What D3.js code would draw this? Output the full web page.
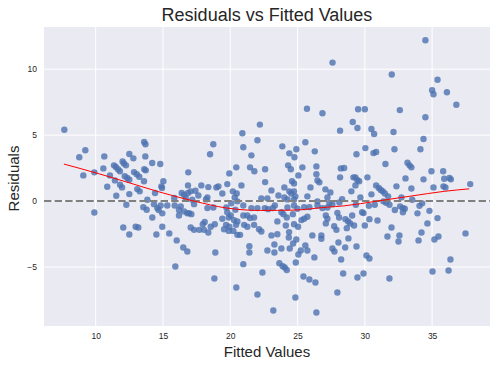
<!DOCTYPE html>
<html><head><meta charset="utf-8">
<script src="https://cdn.jsdelivr.net/npm/d3@7"></script>
<style>body{margin:0;background:#fff;}svg{display:block;font-family:"Liberation Sans",Arial,sans-serif;}</style>
</head><body>
<svg id="chart" width="497" height="367"></svg>
<script>
const fitted = [27.6,25.7,26.85,22.2,34.5,32.0,35.4,35.0,35.1,36.1,36.8,29.5,30.0,32.6,34.5,29.1,
7.67,13.6,13.7,9.23,8.78,10.64,12.5,12.8,13.69,12.0,12.1,12.25,11.36,11.5,11.66,14.2,14.8,10.57,9.08,9.9,11.06,11.8,12.16,12.35,12.5,12.85,13.05,13.24,13.61,13.72,16.88,11.43,11.81,11.96,13.59,15.03,14.88,14.93,10.86,13.09,13.27,16.86,16.39,16.57,16.86,17.06,12.5,11.53,14.41,13.84,15.84,16.69,17.18,12.28,13.54,13.79,14.33,14.58,14.83,14.68,15.32,15.87,16.19,16.32,16.57,16.81,16.94,17.11,16.19,14.95,14.21,9.9,12.05,12.97,13.17,14.95,17.06,
12.5,14.51,15.47,16.02,16.51,16.81,15.92,
20.9,28.16,18.74,18.5,20.97,22.02,21.57,23.87,25.58,24.91,24.39,24.77,26.28,19.93,20.45,21.47,21.79,22.59,24.3,24.5,25.36,25.06,26.4,26.4,26.48,26.62,28.22,28.16,22.59,19.78,20.83,17.85,18.37,18.97,19.12,17.41,17.63,23.06,24.02,24.59,24.74,24.39,24.54,24.74,25.96,27.07,27.44,20.19,20.48,20.33,19.41,18.3,18.2,23.58,22.31,22.76,24.02,24.25,24.84,24.74,25.73,26.48,27.22,27.37,27.59,28.11,28.31,20.08,20.53,17.31,18.3,18.74,19.71,20.38,20.97,21.57,22.02,22.57,22.81,23.31,23.16,23.8,23.95,24.25,24.74,24.99,25.49,25.88,26.48,26.85,27.22,27.96,19.78,20.04,19.89,20.97,21.27,21.47,21.77,19.41,18.1,17.96,20.28,20.53,20.43,23.5,24.2,24.65,25.29,25.49,25.73,27.1,27.22,28.09,18.85,18.55,19.69,19.93,21.03,21.27,21.77,24.13,24.74,25.04,27.1,27.72,
29.45,30.49,30.69,32.13,34.36,30.04,30.64,30.84,29.38,32.2,34.13,31.53,33.17,33.32,33.46,34.95,35.82,29.15,29.3,29.45,29.58,30.19,33.02,34.36,35.9,36.29,36.39,28.46,29.0,29.3,30.84,31.04,31.19,31.34,31.49,32.35,33.46,35.1,35.84,35.99,37.83,30.49,31.73,32.72,29.67,31.38,31.58,31.83,33.52,34.26,34.06,29.33,30.3,30.74,32.62,32.83,32.97,32.23,32.83,34.8,33.91,29.8,29.9,29.06,35.4,28.56,28.76,28.91,30.34,30.94,34.65,29.2,30.0,31.98,
17.31,17.7,18.05,18.37,19.54,19.89,20.23,20.53,20.73,22.14,22.31,23.06,23.5,24.37,24.35,26.1,26.77,26.77,27.89,21.42,21.42,18.89,22.76,23.28,23.28,23.8,24.42,24.67,24.91,25.06,25.24,25.58,25.73,26.25,27.59,27.74,28.04,28.24,20.97,23.65,23.9,24.05,24.2,24.87,22.39,18.82,20.45,22.02,25.44,25.88,26.33,24.84,27.96,23.2,26.4,28.39,
28.66,31.68,32.57,32.5,34.21,33.99,35.17,35.47,37.48,28.78,28.54,29.38,30.12,30.34,36.36,29.45,29.9,31.83,35.03,36.22];
const residuals = [10.5,7.0,6.66,5.8,12.2,9.6,9.2,8.4,8.1,8.25,7.3,6.96,6.96,6.9,6.36,6.0,
5.41,4.48,4.31,3.85,3.32,3.39,3.57,3.24,3.39,3.01,2.86,2.71,2.71,2.58,2.41,2.89,2.81,2.48,1.95,2.18,1.95,2.26,1.88,1.75,1.62,2.2,2.03,1.85,2.41,2.33,2.18,1.57,1.24,1.04,1.5,1.5,1.12,0.99,1.09,0.91,0.74,1.19,0.61,0.48,0.61,0.74,0.53,0.4,0.61,0.1,0.23,0.23,0.1,-0.28,-0.46,-0.66,-0.23,-0.53,-0.33,-0.68,-0.33,-0.33,-0.68,-0.4,-0.78,-0.93,-0.91,-0.99,-1.09,-0.93,-1.24,-0.86,-2.0,-1.95,-2.0,-1.95,-2.0,
-2.53,-2.53,-2.45,-2.98,-3.52,-3.82,-4.96,
5.14,5.34,4.31,3.55,4.08,4.61,3.47,4.15,4.46,3.93,3.62,3.32,3.77,2.1,2.56,2.56,2.26,2.41,2.71,2.41,2.56,1.95,2.63,2.03,1.57,1.42,2.48,1.8,1.44,1.29,1.19,1.19,1.06,1.04,1.12,0.78,0.43,0.81,1.04,1.5,1.34,0.74,0.58,0.74,1.04,0.89,0.66,0.74,0.58,0.28,0.58,0.28,0.13,0.43,0.21,0.21,0.28,0.13,0.36,0.13,0.36,-0.02,0.28,-0.15,-0.23,-0.1,0.15,-0.17,-0.02,-0.23,-0.53,-0.48,-0.48,-0.66,-0.33,-0.53,-0.53,-0.53,-0.61,-0.33,-0.53,-0.84,-0.99,-0.48,-0.33,-0.58,-0.46,-0.46,-0.33,-0.53,-0.48,-0.89,-0.84,-1.09,-1.24,-1.09,-1.09,-1.29,-1.24,-1.34,-1.59,-1.75,-1.44,-1.54,-1.8,-1.54,-1.24,-0.99,-1.44,-1.34,-1.19,-1.09,-1.34,-1.24,-1.75,-1.95,-1.8,-1.95,-1.8,-1.95,-1.8,-1.85,-1.75,-1.95,-1.69,-1.9,
5.54,5.47,5.09,5.24,4.71,4.02,3.64,3.72,3.55,3.93,3.93,2.81,2.91,2.71,2.56,2.26,2.26,1.8,1.8,1.59,1.5,1.8,1.72,1.65,1.69,1.75,1.65,2.51,0.74,1.19,1.19,0.99,0.84,0.74,0.58,1.12,0.96,1.04,1.12,1.04,1.29,0.51,0.36,0.28,0.28,-0.02,-0.13,-0.28,0.1,-0.17,-0.36,-0.28,-0.36,-0.28,-0.4,-0.53,-0.58,-0.68,-0.84,-0.74,-0.93,-0.84,-0.91,-1.09,-1.29,-1.37,-1.54,-1.69,-1.37,-1.47,-1.69,-1.85,-1.85,-2.0,
-2.18,-2.18,-2.18,-2.38,-2.13,-2.26,-2.26,-2.56,-2.56,-2.13,-2.3,-2.6,-2.51,-2.35,-2.76,-2.6,-2.6,-2.86,-2.18,-3.42,-3.9,-3.9,-3.74,-3.29,-3.9,-3.59,-3.59,-3.21,-2.91,-4.05,-3.74,-3.36,-3.74,-4.27,-3.59,-3.82,-3.14,-4.43,-4.78,-4.71,-4.94,-5.03,-5.22,-4.65,-5.41,-5.87,-6.55,-7.08,-5.72,-5.95,-6.17,-7.31,-6.93,-8.3,-8.45,-5.49,
-2.05,-2.68,-2.6,-3.06,-2.38,-2.98,-2.91,-2.68,-2.45,-2.83,-3.52,-3.44,-4.12,-4.35,-4.43,-5.79,-5.49,-5.87,-5.34,-5.26];
const lowessX = [7.64,10.32,12.55,14.78,17.31,19.76,22.27,24.74,27.2,28.46,30.91,33.42,35.9,37.76];
const lowessY = [2.81,2.05,1.37,0.68,0.0,-0.53,-0.71,-0.68,-0.46,-0.36,0.0,0.38,0.74,0.93];
const xTicks = [10,15,20,25,30,35];
const yTicks = [-5,0,5,10];

const svg = d3.select("#chart");
const L=44,R=490,T=27,B=326;
const x = d3.scaleLinear().domain([6.16,39.3]).range([L,R]);
const y = d3.scaleLinear().domain([-9.47,13.2]).range([B,T]);

svg.append("rect").attr("x",L).attr("y",T).attr("width",R-L).attr("height",B-T).attr("fill","#EAEAF2");
const g = svg.append("g");
g.selectAll(".vx").data(xTicks).enter().append("line")
 .attr("x1",d=>x(d)).attr("x2",d=>x(d)).attr("y1",T).attr("y2",B).attr("stroke","#fff").attr("stroke-width",1);
g.selectAll(".hy").data(yTicks).enter().append("line")
 .attr("y1",d=>y(d)).attr("y2",d=>y(d)).attr("x1",L).attr("x2",R).attr("stroke","#fff").attr("stroke-width",1);

const xAxis = svg.append("g").attr("transform",`translate(0,${B})`)
 .call(d3.axisBottom(x).tickValues(xTicks).tickSize(0).tickPadding(7));
xAxis.select(".domain").remove();
xAxis.selectAll("text").attr("font-size",8.5).attr("fill","#262626").attr("font-family","Liberation Sans, Arial, sans-serif");
const yAxis = svg.append("g").attr("transform",`translate(${L},0)`)
 .call(d3.axisLeft(y).tickValues(yTicks).tickSize(0).tickPadding(7).tickFormat(d=>d<0?"\u2212"+Math.abs(d):d));
yAxis.select(".domain").remove();
yAxis.selectAll("text").attr("font-size",8.5).attr("fill","#262626").attr("font-family","Liberation Sans, Arial, sans-serif");

const pts = fitted.map((f,i)=>({f, r:residuals[i]}));
svg.append("g").selectAll("circle").data(pts).enter().append("circle")
 .attr("cx",d=>x(d.f)).attr("cy",d=>y(d.r)).attr("r",3.2)
 .attr("fill","#4C72B0").attr("fill-opacity",0.8);

svg.append("line").attr("x1",L).attr("x2",R).attr("y1",y(0)).attr("y2",y(0))
 .attr("stroke","#808080").attr("stroke-width",2).attr("stroke-dasharray","7.4,3.2");

const lw = lowessX.map((v,i)=>[v,lowessY[i]]);
svg.append("path").datum(lw).attr("fill","none").attr("stroke","red").attr("stroke-width",1)
 .attr("d",d3.line().x(d=>x(d[0])).y(d=>y(d[1])).curve(d3.curveMonotoneX));

svg.append("text").attr("x",(L+R)/2).attr("y",21).attr("text-anchor","middle")
 .attr("font-size",18).attr("fill","#262626").text("Residuals vs Fitted Values");
svg.append("text").attr("x",(L+R)/2).attr("y",357).attr("text-anchor","middle")
 .attr("font-size",15).attr("fill","#262626").text("Fitted Values");
svg.append("text").attr("transform",`translate(19,${(T+B)/2+2}) rotate(-90)`).attr("text-anchor","middle")
 .attr("font-size",15).attr("fill","#262626").text("Residuals");
</script>
</body></html>
